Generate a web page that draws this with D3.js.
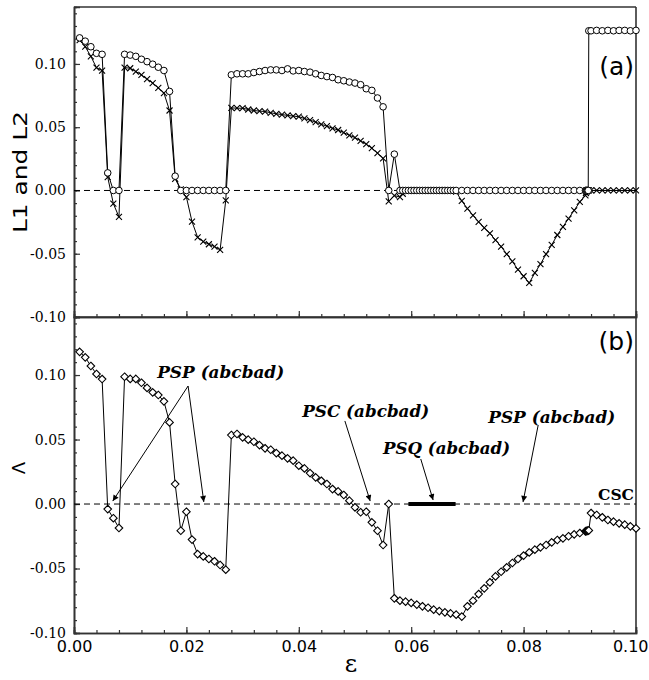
<!DOCTYPE html>
<html>
<head>
<meta charset="utf-8">
<script src="https://cdn.jsdelivr.net/npm/d3@7"></script>
<style>
  body { margin: 0; background: #fff; }
</style>
</head>
<body>
<svg id="chart" width="649" height="680"></svg>
<script>
// epsilon grid of panel (a), with the denser runs near 0.06 and 0.0915
const epsTop = [
  0.001,0.002,0.003,0.004,0.005,0.006,0.007,0.008,0.009,0.010,
  0.011,0.012,0.013,0.014,0.015,0.016,0.017,0.018,0.019,0.020,
  0.021,0.022,0.023,0.024,0.025,0.026,0.027,0.028,0.029,0.030,
  0.031,0.032,0.033,0.034,0.035,0.036,0.037,0.038,0.039,0.040,
  0.041,0.042,0.043,0.044,0.045,0.046,0.047,0.048,0.049,0.050,
  0.051,0.052,0.053,0.054,0.055,0.056,0.057,0.058,
  0.0585,0.059,0.0595,0.060,0.0605,0.061,0.0615,0.062,0.0625,0.063,
  0.0635,0.064,0.0645,0.065,0.0655,0.066,0.0665,0.067,0.0675,
  0.068,0.069,0.070,0.071,0.072,0.073,0.074,0.075,0.076,0.077,
  0.078,0.079,0.080,0.081,0.082,0.083,0.084,0.085,0.086,0.087,
  0.088,0.089,0.090,0.091,
  0.0911,0.0912,0.0913,0.0914,0.0915,0.0916,
  0.092,0.093,0.094,0.095,0.096,0.097,0.098,0.099,0.100
];
const L1 = [
  0.1206,0.118,0.1136,0.1084,0.1076,0.0139,0,0,0.1076,0.107,
  0.106,0.1037,0.1018,0.0998,0.0974,0.0948,0.0783,0.0113,0,0,
  0,0,0,0,0,0,0,0.0914,0.0922,0.0922,
  0.0922,0.0932,0.094,0.0948,0.0953,0.0953,0.0948,0.0961,0.0945,0.0948,
  0.094,0.0935,0.0922,0.0909,0.09,0.0893,0.0875,0.0867,0.0857,0.0849,
  0.0836,0.0804,0.0791,0.0731,0.0661,0,0.0287,0,
  0,0,0,0,0,0,0,0,0,0,
  0,0,0,0,0,0,0,0,0,
  0,0,0,0,0,0,0,0,0,0,
  0,0,0,0,0,0,0,0,0,0,
  0,0,0,0,
  0,0,0,0,0,0.1262,
  0.1262,0.1265,0.1262,0.1265,0.1262,0.1265,0.1265,0.1262,0.1265
];
const L2 = [
  0.1188,0.1136,0.106,0.097,0.0948,0.0105,-0.0104,-0.0209,0.0971,0.0966,
  0.094,0.0914,0.088,0.0849,0.081,0.077,0.0632,0.0092,0.0008,-0.0052,
  -0.0247,-0.037,-0.0404,-0.0425,-0.0443,-0.047,-0.0078,0.0653,0.065,0.065,
  0.064,0.0632,0.0627,0.0624,0.0614,0.0606,0.06,0.0593,0.0588,0.0583,
  0.0569,0.0556,0.054,0.0522,0.0509,0.0491,0.0478,0.0457,0.0436,0.0418,
  0.0392,0.0366,0.0334,0.0295,0.0254,-0.0086,-0.004,-0.0052,
  -0.0026,0,0,0,0,0,0,0,0,0,
  0,0,0,0,0,0,0,0,0,
  -0.001,-0.0083,-0.0143,-0.0196,-0.0248,-0.0295,-0.0339,-0.0392,-0.0443,-0.0503,
  -0.0561,-0.0626,-0.0678,-0.0731,-0.0652,-0.0582,-0.0503,-0.043,-0.0352,-0.0287,
  -0.0222,-0.0157,-0.0091,-0.0039,
  -0.002,-0.001,0,0,0,0,
  0,0,0,0,0,0,0,0,0
];

// epsilon grid of panel (b)
const epsBot = [
  0.001,0.002,0.003,0.004,0.005,0.006,0.007,0.008,0.009,0.010,
  0.011,0.012,0.013,0.014,0.015,0.016,0.017,0.018,0.019,0.020,
  0.021,0.022,0.023,0.024,0.025,0.026,0.027,0.028,0.029,0.030,
  0.031,0.032,0.033,0.034,0.035,0.036,0.037,0.038,0.039,0.040,
  0.041,0.042,0.043,0.044,0.045,0.046,0.047,0.048,0.049,0.050,
  0.051,0.052,0.053,0.054,0.055,0.056,0.057,0.058,0.059,0.060,
  0.061,0.062,0.063,0.064,0.065,0.066,0.067,0.068,0.069,0.070,
  0.071,0.072,0.073,0.074,0.075,0.076,0.077,0.078,0.079,0.080,
  0.081,0.082,0.083,0.084,0.085,0.086,0.087,0.088,0.089,0.090,0.091,
  0.0911,0.0912,0.0913,0.0914,0.0915,0.0916,
  0.092,0.093,0.094,0.095,0.096,0.097,0.098,0.099,0.100
];
const Lambda = [
  0.118,0.1137,0.107,0.1008,0.0969,-0.0039,-0.011,-0.0186,0.0987,0.097,
  0.097,0.094,0.09,0.0866,0.0845,0.0796,0.0633,0.0155,-0.0207,-0.006,
  -0.0276,-0.0388,-0.0406,-0.0426,-0.0444,-0.0473,-0.0509,0.0535,0.0543,0.0517,
  0.0499,0.0483,0.0457,0.0432,0.0421,0.0395,0.0375,0.0354,0.0336,0.0297,
  0.0276,0.024,0.0207,0.018,0.0155,0.0116,0.0098,0.007,0.0026,-0.0026,
  -0.0064,-0.006,-0.0142,-0.0207,-0.0318,0,-0.0731,-0.0749,-0.0757,-0.0767,
  -0.078,-0.0793,-0.0804,-0.0819,-0.083,-0.084,-0.0848,-0.0858,-0.0873,-0.0793,
  -0.0749,-0.0698,-0.0654,-0.0607,-0.0561,-0.0525,-0.0491,-0.0457,-0.0426,-0.04,
  -0.0375,-0.0354,-0.0336,-0.0318,-0.0297,-0.0279,-0.0266,-0.025,-0.0235,-0.0225,-0.0212,
  -0.021,-0.0209,-0.0208,-0.0207,-0.0206,-0.0205,
  -0.007,-0.0085,-0.0103,-0.0124,-0.0137,-0.015,-0.016,-0.0173,-0.0189
];

const xTicks = [0, 0.02, 0.04, 0.06, 0.08, 0.10];
const yTicks = [-0.10, -0.05, 0, 0.05, 0.10];
const psqRange = [0.0595, 0.0679];

// annotations of panel (b): label start, arrow tail, arrow heads (data coords)
const notes = [
  { label: 'PSP (abcbad)', at: [0.0148, 0.0977], tail: [0.0203, 0.0915], heads: [[0.0069, 0.0023], [0.0231, 0.0016]] },
  { label: 'PSC (abcbad)', at: [0.0406, 0.0675], tail: [0.0482, 0.0644], heads: [[0.0527, 0.0023]] },
  { label: 'PSQ (abcbad)', at: [0.0550, 0.0388], tail: [0.0617, 0.0349], heads: [[0.0639, 0.0031]] },
  { label: 'PSP (abcbad)', at: [0.0737, 0.0628], tail: [0.0826, 0.0613], heads: [[0.0799, 0.0016]] }
];

const svg = d3.select('#chart');
const left = 74, right = 636;
const axisColor = '#333';

const x = d3.scaleLinear().domain([0, 0.1]).range([left, right]);
const yTop = d3.scaleLinear().domain([-0.10, 0.145]).range([317, 7]);
const yBot = d3.scaleLinear().domain([-0.10, 0.145]).range([633, 317]);

const fmt = v => d3.format('.2f')(v).replace('\u2212', '-');

function drawFrame(y, showX) {
  const [y0, y1] = y.range();
  const g = svg.append('g');

  // minor ticks
  g.append('g').attr('transform', `translate(0,${y0})`)
    .call(d3.axisBottom(x).tickValues(d3.range(0, 0.1001, 0.004)).tickSize(-3).tickFormat(''));
  g.append('g').attr('transform', `translate(${left},0)`)
    .call(d3.axisLeft(y).tickValues(d3.range(-0.10, 0.1451, 0.01)).tickSize(-3).tickFormat(''));

  const xa = g.append('g').attr('transform', `translate(0,${y0})`)
    .call(d3.axisBottom(x).tickValues(xTicks).tickSize(-6).tickPadding(7)
      .tickFormat(showX ? fmt : ''));
  xa.selectAll('text').attr('font-family', 'DejaVu Sans, sans-serif').attr('font-size', 16)
    .attr('fill', '#000').attr('dy', '0.78em');
  // last label sits against the right edge of the picture
  xa.selectAll('.tick').filter(d => d === 0.10).select('text')
    .attr('text-anchor', 'end').attr('x', 648 - right);

  const ya = g.append('g').attr('transform', `translate(${left},0)`)
    .call(d3.axisLeft(y).tickValues(yTicks).tickSize(-6).tickPadding(8).tickFormat(fmt));
  ya.selectAll('text').attr('font-family', 'DejaVu Serif, serif').attr('font-size', 14).attr('fill', '#000');

  g.selectAll('.domain').attr('stroke', axisColor).attr('stroke-width', 1.6);
  g.selectAll('.tick line').attr('stroke', axisColor).attr('stroke-width', 1.2);

  // top and right border
  g.append('line').attr('x1', left).attr('x2', right).attr('y1', y1).attr('y2', y1)
    .attr('stroke', axisColor).attr('stroke-width', 1.6);
  g.append('line').attr('x1', right).attr('x2', right).attr('y1', y1).attr('y2', y0)
    .attr('stroke', axisColor).attr('stroke-width', 1.6);

  // dashed zero line
  svg.append('line').attr('x1', left).attr('x2', right).attr('y1', y(0)).attr('y2', y(0))
    .attr('stroke', '#000').attr('stroke-width', 1).attr('stroke-dasharray', '6,4');
}

function drawSeries(eps, vals, y, marker) {
  const pts = eps.map((e, i) => [e, vals[i]]);
  const line = d3.line().x(d => x(d[0])).y(d => y(d[1]));
  svg.append('path').datum(pts).attr('d', line)
    .attr('fill', 'none').attr('stroke', '#000').attr('stroke-width', 1);
  const m = svg.append('g').selectAll('g').data(pts).join('g')
    .attr('transform', d => `translate(${x(d[0])},${y(d[1])})`);
  if (marker === 'circle') {
    m.append('circle').attr('r', 3.3).attr('fill', '#fff').attr('stroke', '#000').attr('stroke-width', 1);
  } else if (marker === 'cross') {
    m.append('path').attr('d', 'M-3,-3L3,3M-3,3L3,-3').attr('stroke', '#000').attr('stroke-width', 1.1);
  } else {
    m.append('path').attr('d', 'M0,-3.8L3.8,0L0,3.8L-3.8,0Z')
      .attr('fill', '#fff').attr('stroke', '#000').attr('stroke-width', 1.1);
  }
}

drawFrame(yTop, false);
drawFrame(yBot, true);

drawSeries(epsTop, L2, yTop, 'cross');
drawSeries(epsTop, L1, yTop, 'circle');
drawSeries(epsBot, Lambda, yBot, 'diamond');

// PSQ thick segment
svg.append('line')
  .attr('x1', x(psqRange[0])).attr('x2', x(psqRange[1]))
  .attr('y1', yBot(0)).attr('y2', yBot(0))
  .attr('stroke', '#000').attr('stroke-width', 4);

// arrows
const defs = svg.append('defs');
defs.append('marker').attr('id', 'ah').attr('viewBox', '0 0 10 10')
  .attr('refX', 10).attr('refY', 5).attr('markerWidth', 8).attr('markerHeight', 6)
  .attr('markerUnits', 'userSpaceOnUse').attr('orient', 'auto')
  .append('path').attr('d', 'M0,0L10,5L0,10Z').attr('fill', '#000');

notes.forEach(n => {
  svg.append('text').attr('x', x(n.at[0])).attr('y', yBot(n.at[1]))
    .attr('font-family', 'DejaVu Serif, serif').attr('font-weight', 'bold').attr('font-style', 'italic')
    .attr('font-size', 16).attr('textLength', 127).attr('lengthAdjust', 'spacingAndGlyphs')
    .text(n.label);
  n.heads.forEach(h => {
    svg.append('line')
      .attr('x1', x(n.tail[0])).attr('y1', yBot(n.tail[1]))
      .attr('x2', x(h[0])).attr('y2', yBot(h[1]))
      .attr('stroke', '#000').attr('stroke-width', 1).attr('marker-end', 'url(#ah)');
  });
});

svg.append('text').attr('x', right - 2).attr('y', yBot(0) - 4).attr('text-anchor', 'end')
  .attr('font-family', 'DejaVu Serif, serif').attr('font-weight', 'bold').attr('font-size', 14)
  .attr('textLength', 36).attr('lengthAdjust', 'spacingAndGlyphs').text('CSC');

// panel labels
svg.append('text').attr('x', right - 2).attr('y', 75).attr('text-anchor', 'end')
  .attr('font-family', 'DejaVu Sans, sans-serif').attr('font-size', 25).text('(a)');
svg.append('text').attr('x', right - 2).attr('y', 350).attr('text-anchor', 'end')
  .attr('font-family', 'DejaVu Sans, sans-serif').attr('font-size', 25).text('(b)');

// axis titles
svg.append('text').attr('transform', 'translate(27,172) rotate(-90)').attr('text-anchor', 'middle')
  .attr('font-family', 'DejaVu Sans, sans-serif').attr('font-size', 20)
  .attr('textLength', 122).attr('lengthAdjust', 'spacingAndGlyphs').text('L1 and L2');
svg.append('text').attr('transform', 'translate(25,468) rotate(-90)').attr('text-anchor', 'middle')
  .attr('font-family', 'DejaVu Sans, sans-serif').attr('font-size', 18).text('Λ');
svg.append('text').attr('x', 351).attr('y', 672).attr('text-anchor', 'middle')
  .attr('font-family', 'DejaVu Serif, serif').attr('font-size', 24).text('ε');
</script>
</body>
</html>
